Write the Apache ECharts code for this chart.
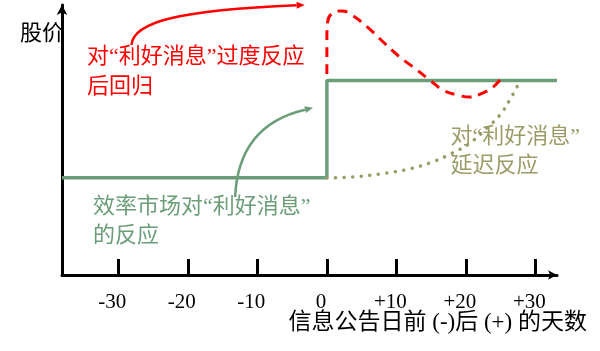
<!DOCTYPE html>
<html>
<head>
<meta charset="utf-8">
<script src="https://cdn.jsdelivr.net/npm/echarts@6/dist/echarts.min.js"></script>
<style>
  html, body { margin: 0; padding: 0; background: #fff; }
  #chart-container { width: 600px; height: 351px; }
</style>
</head>
<body>
<div id="chart-container"></div>
<script>
// 横轴：信息公告日前后天数
var tickValues = [-30, -20, -10, 0, 10, 20, 30];
var tickLabels = ['-30', '-20', '-10', '0', '+10', '+20', '+30'];

// 效率市场（阶跃）
var efficientX = [-38.1, 0, 0, 33.1];
var efficientY = [36, 36, 72, 72];

// 过度反应后回归（红色虚线）
var overX = [0, 0, 0, 0.1, 0.8, 2.2, 3.6, 5.8, 8.1, 10.5, 13, 14.8, 16.7, 18.7, 20.6, 22.4, 23.9, 24.9];
var overY = [74.4, 81.5, 87, 93.7, 97, 97.8, 96.3, 91.9, 86.3, 80.7, 75.9, 72.2, 68.5, 66.7, 65.9, 67.4, 69.6, 72.2];

// 延迟反应（点线）
var delayX = [0, 3.7, 7.6, 11.2, 14.8, 18.1, 20.6, 23.0, 24.9, 26.3, 27.1, 27.5];
var delayY = [35.9, 36.3, 37.4, 38.9, 41.5, 45.2, 48.9, 54.4, 59.3, 64.8, 68.5, 70.4];

// 标注箭头（三次贝塞尔控制点）
var redArrowX = [-28.1, -27.9, -21.2, -3.2];
var redArrowY = [85.2, 93.7, 98.1, 100];
var greenArrowX = [-13.2, -12.9, -9.6, -2.0];
var greenArrowY = [28.9, 46.3, 57.4, 61.9];

var RED = '#ff0000', GREEN = '#6b9e78', OLIVE = '#9c9c68';
var FONT = "'Liberation Serif', 'Noto Sans CJK SC', serif";

function pairs(xs, ys) {
    return xs.map(function (x, i) { return [x, ys[i]]; });
}

function arrowRenderer(xs, ys, color) {
    return function (params, api) {
        var p = xs.map(function (x, i) { return api.coord([x, ys[i]]); });
        var dx = p[3][0] - p[2][0], dy = p[3][1] - p[2][1];
        var len = Math.sqrt(dx * dx + dy * dy);
        var ux = dx / len, uy = dy / len;
        var tip = p[3], L = 8, W = 3.5;
        var base = [tip[0] - ux * L, tip[1] - uy * L];
        return {
            type: 'group',
            children: [{
                type: 'bezierCurve',
                shape: {
                    x1: p[0][0], y1: p[0][1],
                    cpx1: p[1][0], cpy1: p[1][1],
                    cpx2: p[2][0], cpy2: p[2][1],
                    x2: base[0], y2: base[1]
                },
                style: { stroke: color, lineWidth: 2.5, fill: null }
            }, {
                type: 'polygon',
                shape: { points: [tip, [base[0] - uy * W, base[1] + ux * W], [base[0] + uy * W, base[1] - ux * W]] },
                style: { fill: color }
            }]
        };
    };
}

var myChart = echarts.init(document.getElementById('chart-container'));
myChart.setOption({
    animation: false,
    grid: { left: 62, right: 43, top: 5, bottom: 76 },
    xAxis: {
        type: 'value',
        min: -38.1,
        max: 33.1,
        splitLine: { show: false },
        axisLine: {
            onZero: false,
            symbol: ['none', 'arrow'],
            symbolSize: [7, 9],
            lineStyle: { color: '#000', width: 3 }
        },
        axisTick: {
            customValues: tickValues,
            inside: true,
            length: 16,
            lineStyle: { color: '#000', width: 3 }
        },
        axisLabel: {
            customValues: tickValues,
            margin: 17,
            padding: [0, 12, 0, 0],
            color: '#000',
            fontFamily: FONT,
            fontSize: 21,
            formatter: function (v) {
                return tickLabels[tickValues.indexOf(v)];
            }
        }
    },
    yAxis: {
        type: 'value',
        min: 0,
        max: 100,
        splitLine: { show: false },
        axisTick: { show: false },
        axisLabel: { show: false },
        axisLine: {
            show: true,
            onZero: false,
            symbol: ['none', 'arrow'],
            symbolSize: [8, 10],
            lineStyle: { color: '#000', width: 3 }
        }
    },
    series: [{
        name: '效率市场',
        type: 'line',
        showSymbol: false,
        data: pairs(efficientX, efficientY),
        lineStyle: { width: 3.5, color: GREEN }
    }, {
        name: '过度反应',
        type: 'line',
        showSymbol: false,
        smooth: 0.4,
        data: pairs(overX, overY),
        lineStyle: { width: 3, color: RED, type: [10, 7] }
    }, {
        name: '延迟反应',
        type: 'line',
        showSymbol: false,
        smooth: 0.4,
        data: pairs(delayX, delayY),
        lineStyle: { width: 3.5, color: OLIVE, type: [0.1, 8.5], cap: 'round' }
    }, {
        type: 'custom',
        renderItem: arrowRenderer(redArrowX, redArrowY, RED),
        data: [[redArrowX[3], redArrowY[3]]],
        silent: true
    }, {
        type: 'custom',
        renderItem: arrowRenderer(greenArrowX, greenArrowY, GREEN),
        data: [[greenArrowX[3], greenArrowY[3]]],
        silent: true
    }],
    graphic: [
        { type: 'text', left: 20, top: 23, style: { text: '股价', fill: '#000', font: '22px ' + FONT } },
        { type: 'text', left: 87, top: 42, style: { text: '对“利好消息”过度反应\n后回归', fill: RED, font: '22px ' + FONT, lineHeight: 30 } },
        { type: 'text', left: 93, top: 193, style: { text: '效率市场对“利好消息”\n的反应', fill: GREEN, font: '22px ' + FONT, lineHeight: 29 } },
        { type: 'text', right: 20, top: 123, style: { text: '对“利好消息”\n延迟反应', fill: OLIVE, font: '22px ' + FONT, lineHeight: 29, align: 'right' } },
        { type: 'text', right: 13, top: 311, style: { text: '信息公告日前 (-)后 (+) 的天数', fill: '#000', font: '23px ' + FONT } }
    ]
});
</script>
</body>
</html>
